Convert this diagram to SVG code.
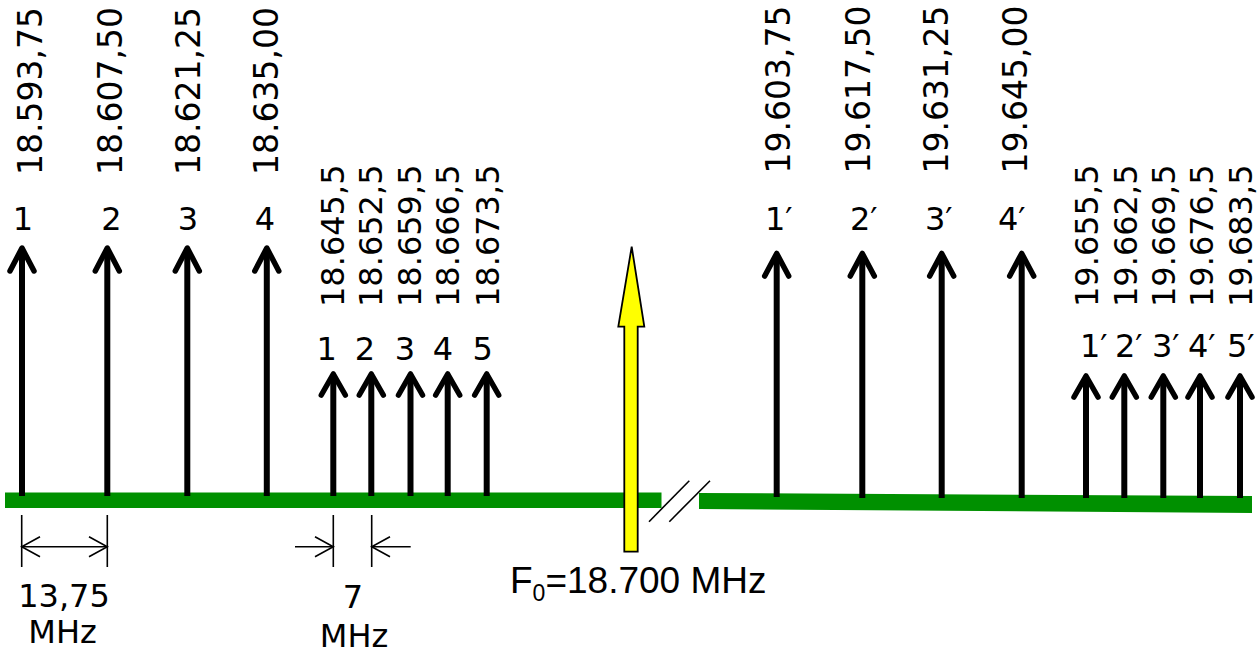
<svg xmlns="http://www.w3.org/2000/svg" width="1259" height="660" viewBox="0 0 1259 660">
<style>
.t{font-family:"DejaVu Sans",Verdana,sans-serif;font-size:32px;fill:#000}
.r{font-size:33px}
.f{font-family:"Liberation Sans",Arial,sans-serif;font-size:37px;fill:#000}
.shaft{stroke:#000;stroke-width:6;fill:none}
.head{stroke:#000;stroke-width:5.5;fill:none;stroke-linecap:round;stroke-linejoin:round}
.dim{stroke:#000;stroke-width:1.6;fill:none}
.axis{fill:#009000}
</style>
<rect width="1259" height="660" fill="#fff"/>
<g id="axis">
<rect class="axis" x="5" y="492.5" width="656.5" height="15.5"/>
<polygon class="axis" points="699,493 1252,496 1252,513 699,509"/>
<line class="dim" x1="649" y1="521.7" x2="689.3" y2="480.7"/>
<line class="dim" x1="669.3" y1="521.7" x2="710" y2="480.7"/>
</g>
<g id="connectors">
<g id="arrow-1"><line class="shaft" x1="22" y1="250" x2="22" y2="496"/><path class="head" d="M10,271 L22,248 L34,271"/></g>
<g id="arrow-2"><line class="shaft" x1="107.3" y1="250" x2="107.3" y2="496"/><path class="head" d="M95.3,271 L107.3,248 L119.3,271"/></g>
<g id="arrow-3"><line class="shaft" x1="187.3" y1="250" x2="187.3" y2="496"/><path class="head" d="M175.3,271 L187.3,248 L199.3,271"/></g>
<g id="arrow-4"><line class="shaft" x1="266.8" y1="250" x2="266.8" y2="496"/><path class="head" d="M254.8,271 L266.8,248 L278.8,271"/></g>
<g id="arrow-s1"><line class="shaft" x1="333.3" y1="376" x2="333.3" y2="496"/><path class="head" d="M321.3,395 L333.3,374 L345.3,395"/></g>
<g id="arrow-s2"><line class="shaft" x1="371.3" y1="376" x2="371.3" y2="496"/><path class="head" d="M359.3,395 L371.3,374 L383.3,395"/></g>
<g id="arrow-s3"><line class="shaft" x1="410.5" y1="376" x2="410.5" y2="496"/><path class="head" d="M398.5,395 L410.5,374 L422.5,395"/></g>
<g id="arrow-s4"><line class="shaft" x1="447.7" y1="376" x2="447.7" y2="496"/><path class="head" d="M435.7,395 L447.7,374 L459.7,395"/></g>
<g id="arrow-s5"><line class="shaft" x1="486.7" y1="376" x2="486.7" y2="496"/><path class="head" d="M474.7,395 L486.7,374 L498.7,395"/></g>
<g id="arrow-1p"><line class="shaft" x1="776.7" y1="256" x2="776.7" y2="497"/><path class="head" d="M764.7,276 L776.7,253.5 L788.7,276"/></g>
<g id="arrow-2p"><line class="shaft" x1="862.3" y1="256" x2="862.3" y2="498"/><path class="head" d="M850.3,276 L862.3,253.5 L874.3,276"/></g>
<g id="arrow-3p"><line class="shaft" x1="941.7" y1="256" x2="941.7" y2="498"/><path class="head" d="M929.7,276 L941.7,253.5 L953.7,276"/></g>
<g id="arrow-4p"><line class="shaft" x1="1021.7" y1="256" x2="1021.7" y2="498"/><path class="head" d="M1009.7,276 L1021.7,253.5 L1033.7,276"/></g>
<g id="arrow-s1p"><line class="shaft" x1="1086" y1="378" x2="1086" y2="498"/><path class="head" d="M1074,397 L1086,376 L1098,397"/></g>
<g id="arrow-s2p"><line class="shaft" x1="1124.3" y1="378" x2="1124.3" y2="498"/><path class="head" d="M1112.3,397 L1124.3,376 L1136.3,397"/></g>
<g id="arrow-s3p"><line class="shaft" x1="1163.3" y1="378" x2="1163.3" y2="498"/><path class="head" d="M1151.3,397 L1163.3,376 L1175.3,397"/></g>
<g id="arrow-s4p"><line class="shaft" x1="1200" y1="378" x2="1200" y2="498"/><path class="head" d="M1188,397 L1200,376 L1212,397"/></g>
<g id="arrow-s5p"><line class="shaft" x1="1240" y1="378" x2="1240" y2="498"/><path class="head" d="M1228,397 L1240,376 L1252,397"/></g>
<g id="carrier"><path d="M624.3,551.7 L624.3,326.7 L618.3,326.7 L631.7,246.7 L644.3,326.7 L637.7,326.7 L637.7,551.7 Z" fill="#ffff00" stroke="#000" stroke-width="1.8" stroke-linejoin="miter"/></g>
<g id="dim-13">
<line class="dim" x1="21.7" y1="515" x2="21.7" y2="567"/>
<line class="dim" x1="107.3" y1="515" x2="107.3" y2="567"/>
<line class="dim" x1="21.7" y1="546.7" x2="107.3" y2="546.7"/>
<path class="dim" d="M40,536.7 L21.7,546.7 L40,556.7 M89,536.7 L107.3,546.7 L89,556.7"/>
</g>
<g id="dim-7">
<line class="dim" x1="333.3" y1="515" x2="333.3" y2="567"/>
<line class="dim" x1="371.7" y1="515" x2="371.7" y2="567"/>
<line class="dim" x1="295" y1="546.7" x2="333.3" y2="546.7"/>
<path class="dim" d="M315,536.7 L333.3,546.7 L315,556.7"/>
<line class="dim" x1="410.7" y1="546.7" x2="371.7" y2="546.7"/>
<path class="dim" d="M390,536.7 L371.7,546.7 L390,556.7"/>
</g>
</g>
<g id="labels-left">
<text class="t r" transform="translate(41.7,175) rotate(-90)">18.593,75</text>
<text class="t r" transform="translate(121.7,175) rotate(-90)">18.607,50</text>
<text class="t r" transform="translate(200,175) rotate(-90)">18.621,25</text>
<text class="t r" transform="translate(278.3,175) rotate(-90)">18.635,00</text>
<text class="t" x="23" y="230" text-anchor="middle">1</text>
<text class="t" x="111.5" y="230" text-anchor="middle">2</text>
<text class="t" x="188" y="230" text-anchor="middle">3</text>
<text class="t" x="265" y="230" text-anchor="middle">4</text>
<text class="t" transform="translate(343.5,307) rotate(-90)">18.645,5</text>
<text class="t" transform="translate(382,307) rotate(-90)">18.652,5</text>
<text class="t" transform="translate(420.5,307) rotate(-90)">18.659,5</text>
<text class="t" transform="translate(458.5,307) rotate(-90)">18.666,5</text>
<text class="t" transform="translate(499,307) rotate(-90)">18.673,5</text>
<text class="t" x="326.7" y="360" text-anchor="middle">1</text>
<text class="t" x="365" y="360" text-anchor="middle">2</text>
<text class="t" x="405" y="360" text-anchor="middle">3</text>
<text class="t" x="443" y="360" text-anchor="middle">4</text>
<text class="t" x="482.7" y="360" text-anchor="middle">5</text>
</g>
<g id="labels-right">
<text class="t r" transform="translate(790,173.5) rotate(-90)">19.603,75</text>
<text class="t r" transform="translate(870,173.5) rotate(-90)">19.617,50</text>
<text class="t r" transform="translate(948.3,173.5) rotate(-90)">19.631,25</text>
<text class="t r" transform="translate(1026.7,173.5) rotate(-90)">19.645,00</text>
<text class="t" x="765" y="230">1′</text>
<text class="t" x="850" y="230">2′</text>
<text class="t" x="925" y="230">3′</text>
<text class="t" x="998" y="230">4′</text>
<text class="t" transform="translate(1098.3,307) rotate(-90)">19.655,5</text>
<text class="t" transform="translate(1136.7,307) rotate(-90)">19.662,5</text>
<text class="t" transform="translate(1175,307) rotate(-90)">19.669,5</text>
<text class="t" transform="translate(1213.3,307) rotate(-90)">19.676,5</text>
<text class="t" transform="translate(1251.7,307) rotate(-90)">19.683,5</text>
<text class="t" x="1080" y="357">1′</text>
<text class="t" x="1115" y="357">2′</text>
<text class="t" x="1152" y="357">3′</text>
<text class="t" x="1188" y="357">4′</text>
<text class="t" x="1227" y="357">5′</text>
</g>
<g id="labels-bottom">
<text class="t" x="64" y="606.7" text-anchor="middle">13,75</text>
<text class="t" x="62.5" y="643.3" text-anchor="middle">MHz</text>
<text class="t" x="353" y="608" text-anchor="middle">7</text>
<text class="t" x="354" y="646.7" text-anchor="middle">MHz</text>
<text class="f" x="510" y="593.3">F<tspan font-size="23" dy="8">0</tspan><tspan dy="-8">=18.700 MHz</tspan></text>
</g>
</svg>
